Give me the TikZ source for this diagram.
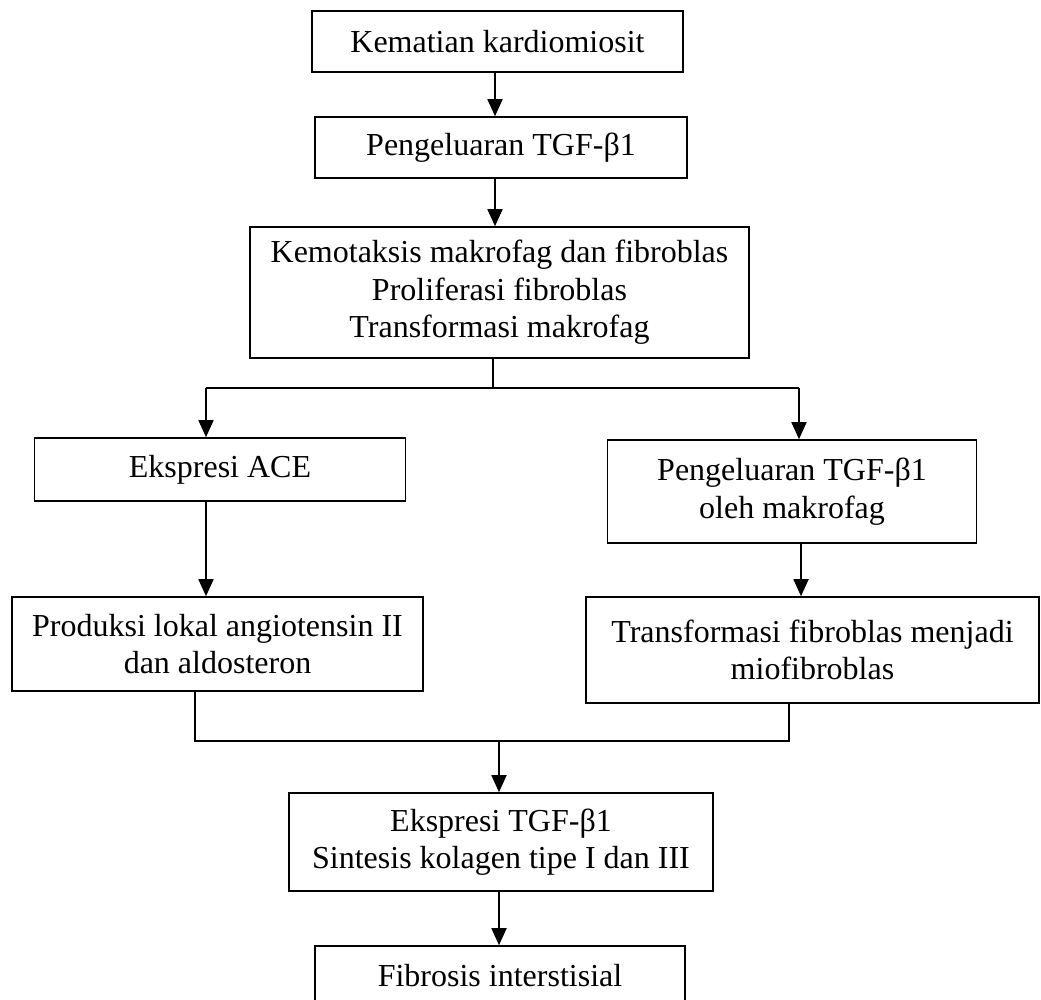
\documentclass[tikz,border=0pt]{standalone}
\usepackage{fontspec}
\setmainfont{Liberation Serif}
\usetikzlibrary{arrows.meta}
\begin{document}
\begin{tikzpicture}[x=1pt,y=-1pt,
  box/.style={draw, line width=1.6pt, inner sep=0pt, align=center,
    font=\fontsize{32}{37.5}\selectfont},
  arr/.style={line width=1.8pt, -{Triangle[length=17pt,width=15pt]}},
  ln/.style={line width=1.8pt}]
\clip (0,0) rectangle (1041,1000);
\fill[white] (0,0) rectangle (1041,1000);
\node[box, minimum width=371pt, minimum height=61pt] (b1) at (497.5,41.5) {Kematian kardiomiosit};
\node[box, minimum width=372pt, minimum height=61pt] (b2) at (501,147.5) {Pengeluaran TGF-β1};
\node[box, minimum width=499pt, minimum height=131pt] (b3) at (499.5,292.5) {Kemotaksis makrofag dan fibroblas\\Proliferasi fibroblas\\Transformasi makrofag};
\node[box, minimum width=371pt, minimum height=63pt] (b4) at (220,469.5) {Ekspresi ACE};
\node[box, minimum width=369pt, minimum height=103pt] (b5) at (792,491.5) {Pengeluaran TGF-β1\\oleh makrofag};
\node[box, minimum width=411pt, minimum height=94pt] (b6) at (217.5,644) {Produksi lokal angiotensin II\\dan aldosteron};
\node[box, minimum width=453pt, minimum height=106pt] (b7) at (812.5,650) {Transformasi fibroblas menjadi\\miofibroblas};
\node[box, minimum width=424pt, minimum height=98pt] (b8) at (501,842) {Ekspresi TGF-β1\\Sintesis kolagen tipe I dan III};
\node[box, minimum width=370pt, minimum height=59pt] (b9) at (500,975.5) {Fibrosis interstisial};
\coordinate (fm) at (493,388);
\coordinate (fl) at (206,388);
\coordinate (fr) at (799,388);
\coordinate (jl) at (195,741);
\coordinate (jr) at (789,741);
\coordinate (jm) at (499,741);
\draw[arr] (495,0 |- b1.south) -- (495,0 |- b2.north);
\draw[arr] (495,0 |- b2.south) -- (495,0 |- b3.north);
\draw[ln] (fm |- b3.south) -- (fm);
\draw[ln] (fl) -- (fr);
\draw[arr] (fl) -- (fl |- b4.north);
\draw[arr] (fr) -- (fr |- b5.north);
\draw[arr] (206,0 |- b4.south) -- (206,0 |- b6.north);
\draw[arr] (801,0 |- b5.south) -- (801,0 |- b7.north);
\draw[ln] (jl |- b6.south) -- (jl) -- (jr) -- (jr |- b7.south);
\draw[arr] (jm) -- (jm |- b8.north);
\draw[arr] (499,0 |- b8.south) -- (499,0 |- b9.north);
\end{tikzpicture}
\end{document}
